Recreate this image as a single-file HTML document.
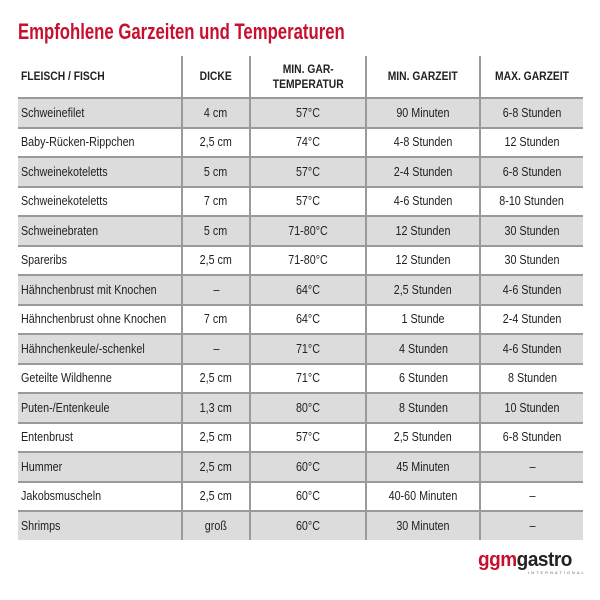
<!DOCTYPE html>
<html><head><meta charset="utf-8"><style>
body{margin:0;width:600px;height:600px;background:#fff;position:relative;overflow:hidden;font-family:"Liberation Sans",sans-serif;}
.t{position:absolute;left:18px;top:19px;color:#c8102e;font-weight:bold;font-size:22px;white-space:nowrap;transform:scaleX(0.76);transform-origin:left top;}
table{position:absolute;left:18px;top:56px;width:565px;border-collapse:collapse;table-layout:fixed;font-size:12.5px;color:#222;}
td,th{height:27.5px;padding:0;text-align:center;border-left:2px solid #9a9a9a;border-top:2px solid #9a9a9a;white-space:nowrap;overflow:visible;}
td span,th span{display:inline-block;transform:scaleX(0.86);}
td:first-child,th:first-child{border-left:none;text-align:left;padding-left:3px;}
td:first-child span,th:first-child span{transform-origin:left center;}
tr:first-child th{border-top:none;height:41px;font-size:12px;line-height:15px;}
tr:nth-child(even) td{background:#dcdcdc;}
.logo{position:absolute;left:478px;top:549px;font-weight:bold;font-size:20px;letter-spacing:-0.5px;color:#222;transform:scaleX(0.95);transform-origin:left top;}
.logo span{color:#c8102e}
.sub{position:absolute;left:528px;top:570px;font-size:4px;letter-spacing:2px;color:#666;}
</style></head><body>
<div class="t">Empfohlene Garzeiten und Temperaturen</div>
<table>
<colgroup><col style="width:164px"><col style="width:68px"><col style="width:116px"><col style="width:114px"><col></colgroup>
<tr><th><span>FLEISCH / FISCH</span></th><th><span>DICKE</span></th><th><span>MIN. GAR-<br>TEMPERATUR</span></th><th><span>MIN. GARZEIT</span></th><th><span>MAX. GARZEIT</span></th></tr>
<tr><td><span>Schweinefilet</span></td><td><span>4 cm</span></td><td><span>57°C</span></td><td><span>90 Minuten</span></td><td><span>6-8 Stunden</span></td></tr>
<tr><td><span>Baby-Rücken-Rippchen</span></td><td><span>2,5 cm</span></td><td><span>74°C</span></td><td><span>4-8 Stunden</span></td><td><span>12 Stunden</span></td></tr>
<tr><td><span>Schweinekoteletts</span></td><td><span>5 cm</span></td><td><span>57°C</span></td><td><span>2-4 Stunden</span></td><td><span>6-8 Stunden</span></td></tr>
<tr><td><span>Schweinekoteletts</span></td><td><span>7 cm</span></td><td><span>57°C</span></td><td><span>4-6 Stunden</span></td><td><span>8-10 Stunden</span></td></tr>
<tr><td><span>Schweinebraten</span></td><td><span>5 cm</span></td><td><span>71-80°C</span></td><td><span>12 Stunden</span></td><td><span>30 Stunden</span></td></tr>
<tr><td><span>Spareribs</span></td><td><span>2,5 cm</span></td><td><span>71-80°C</span></td><td><span>12 Stunden</span></td><td><span>30 Stunden</span></td></tr>
<tr><td><span>Hähnchenbrust mit Knochen</span></td><td><span>–</span></td><td><span>64°C</span></td><td><span>2,5 Stunden</span></td><td><span>4-6 Stunden</span></td></tr>
<tr><td><span>Hähnchenbrust ohne Knochen</span></td><td><span>7 cm</span></td><td><span>64°C</span></td><td><span>1 Stunde</span></td><td><span>2-4 Stunden</span></td></tr>
<tr><td><span>Hähnchenkeule/-schenkel</span></td><td><span>–</span></td><td><span>71°C</span></td><td><span>4 Stunden</span></td><td><span>4-6 Stunden</span></td></tr>
<tr><td><span>Geteilte Wildhenne</span></td><td><span>2,5 cm</span></td><td><span>71°C</span></td><td><span>6 Stunden</span></td><td><span>8 Stunden</span></td></tr>
<tr><td><span>Puten-/Entenkeule</span></td><td><span>1,3 cm</span></td><td><span>80°C</span></td><td><span>8 Stunden</span></td><td><span>10 Stunden</span></td></tr>
<tr><td><span>Entenbrust</span></td><td><span>2,5 cm</span></td><td><span>57°C</span></td><td><span>2,5 Stunden</span></td><td><span>6-8 Stunden</span></td></tr>
<tr><td><span>Hummer</span></td><td><span>2,5 cm</span></td><td><span>60°C</span></td><td><span>45 Minuten</span></td><td><span>–</span></td></tr>
<tr><td><span>Jakobsmuscheln</span></td><td><span>2,5 cm</span></td><td><span>60°C</span></td><td><span>40-60 Minuten</span></td><td><span>–</span></td></tr>
<tr><td><span>Shrimps</span></td><td><span>groß</span></td><td><span>60°C</span></td><td><span>30 Minuten</span></td><td><span>–</span></td></tr>
</table>
<div class="logo"><span>ggm</span>gastro</div>
<div class="sub">INTERNATIONAL</div>
</body></html>
